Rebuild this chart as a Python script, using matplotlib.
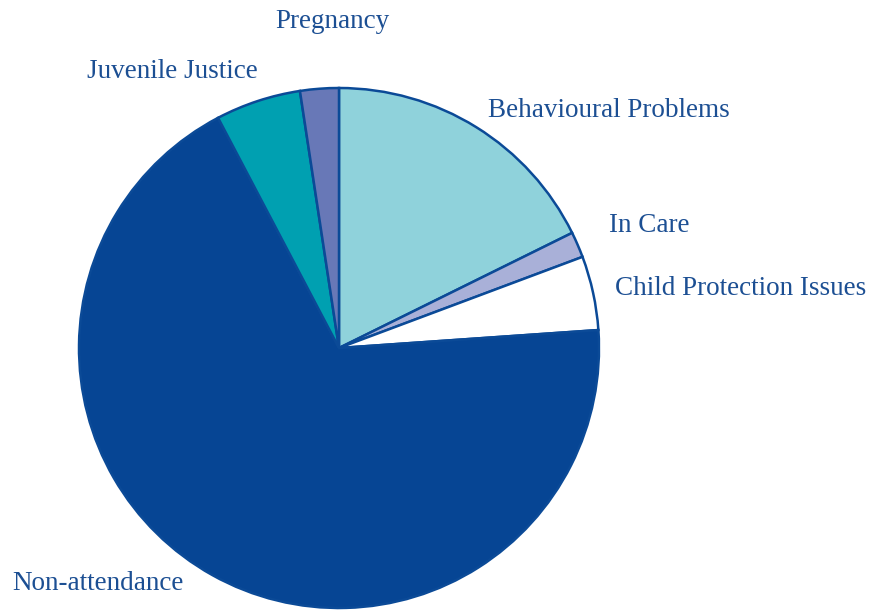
import matplotlib
matplotlib.use("Agg")
import matplotlib.pyplot as plt

# Share of referrals by reason, clockwise from 12 o'clock
categories = ["Behavioural Problems", "In Care", "Child Protection Issues",
              "Non-attendance", "Juvenile Justice", "Pregnancy"]
shares = [17.7, 1.6, 4.6, 68.4, 5.3, 2.4]
colors = ["#8fd2db", "#a9b0d8", "#ffffff", "#064594", "#00a0b1", "#6878b7"]

edge = "#0b4a97"
text_color = "#1c4f93"

W, H = 878, 610
fig = plt.figure(figsize=(W / 100, H / 100), dpi=100)
ax = fig.add_axes([0, 0, 1, 1])

cx, cy, r = 339, H - 348, 260
ax.pie(shares, colors=colors, startangle=90, counterclock=False,
       center=(cx, cy), radius=r, frame=True,
       wedgeprops=dict(edgecolor=edge, linewidth=1.8))
ax.set_xlim(0, W)
ax.set_ylim(0, H)
ax.set_aspect("equal")
ax.axis("off")

# Label placement (left edge x, vertical centre y) in pixel coordinates
label_pos = {
    "Pregnancy": (275, 22),
    "Juvenile Justice": (87, 72),
    "Behavioural Problems": (488, 111),
    "In Care": (609, 226),
    "Child Protection Issues": (615, 289),
    "Non-attendance": (12, 584),
}
for name in categories:
    x, y = label_pos[name]
    ax.text(x, H - y, name, fontsize=19.5, family="Liberation Serif",
            color=text_color, ha="left", va="center")

fig.savefig("out.png", dpi=100)
